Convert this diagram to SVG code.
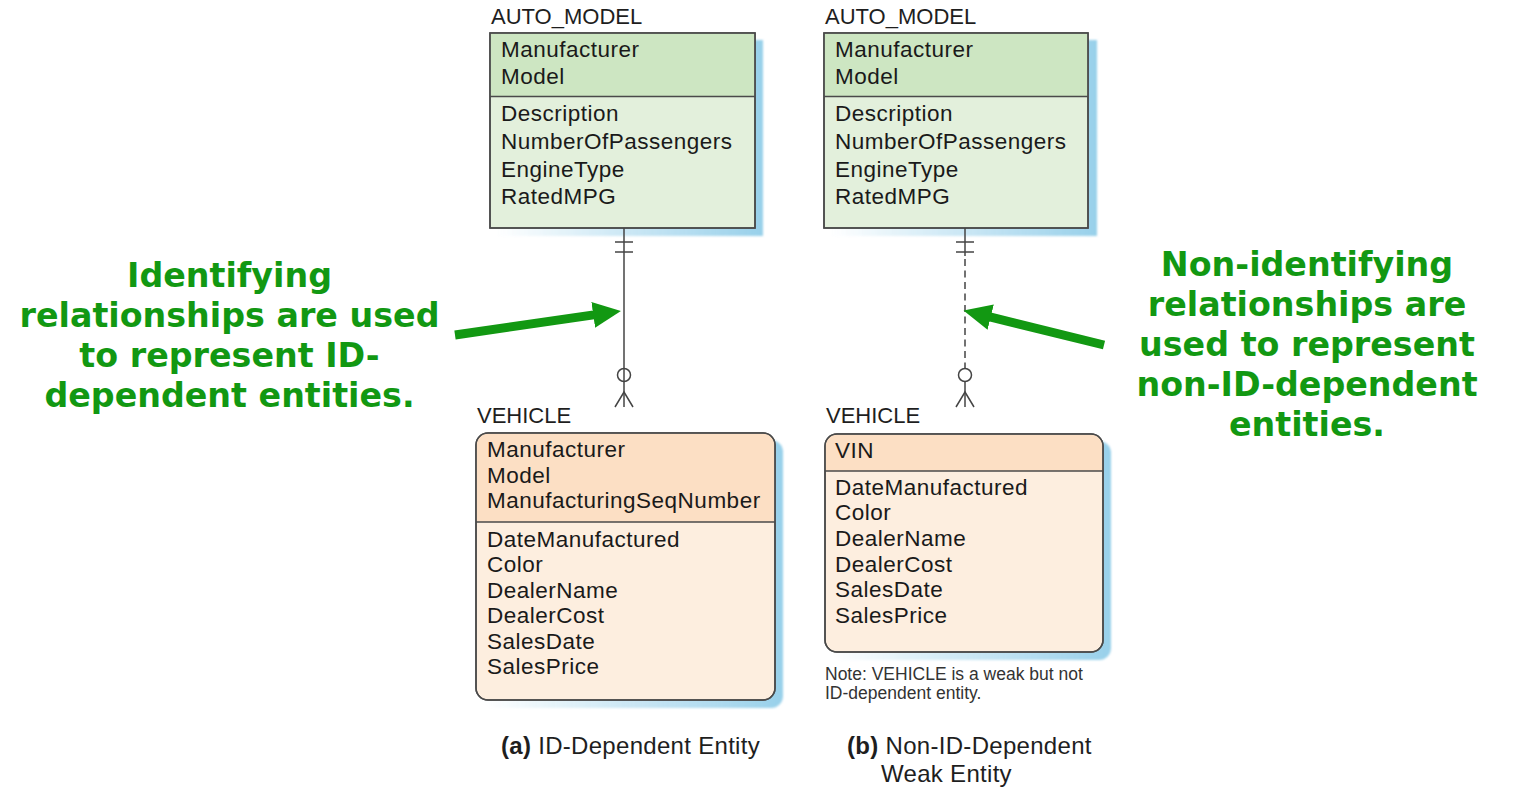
<svg xmlns="http://www.w3.org/2000/svg" width="1513" height="791" viewBox="0 0 1513 791">
<style>
.lbl{font-family:"Liberation Sans",Arial,sans-serif;font-size:22px;fill:#1e1e1e}
.att{font-family:"Liberation Sans",Arial,sans-serif;font-size:22.5px;letter-spacing:0.5px;fill:#1a1a1a}
.note{font-family:"Liberation Sans",Arial,sans-serif;font-size:17.5px;fill:#333}
.cap{font-family:"Liberation Sans",Arial,sans-serif;font-size:24px;letter-spacing:0.3px;fill:#1e1e1e}
.cap tspan.b{font-weight:bold}
.ann{font-family:"DejaVu Sans",Verdana,sans-serif;font-weight:bold;font-size:33.3px;fill:#129812;text-anchor:middle}
.box{stroke:#4a4a4a;stroke-width:1.5}
.sep{stroke:#4a4a4a;stroke-width:1.5}
.shadow{fill:url(#sh);filter:url(#blur)}
.rel{stroke:#444;stroke-width:1.5;fill:none}
.greenArrow{stroke:#129812;stroke-width:9;fill:none;marker-end:url(#gHead)}
</style>
<defs>
<linearGradient id="sh" x1="0" y1="0" x2="1" y2="0">
<stop offset="0" stop-color="#9fd3ec" stop-opacity="0"/>
<stop offset="0.45" stop-color="#9fd3ec" stop-opacity="0.5"/>
<stop offset="1" stop-color="#98d0ea" stop-opacity="1"/>
</linearGradient>
<filter id="blur" x="-5%" y="-5%" width="110%" height="110%"><feGaussianBlur stdDeviation="1.2"/></filter>
<marker id="gHead" markerUnits="userSpaceOnUse" markerWidth="30" markerHeight="28" refX="4" refY="13" orient="auto" viewBox="0 0 30 28">
<path d="M0,0 L28,13 L0,26 z" fill="#129812"/>
</marker>
</defs>
<rect width="1513" height="791" fill="#fff"/>

<g id="auto_model_a">
<text class="lbl" x="491" y="24">AUTO_MODEL</text>
<rect class="shadow" x="497" y="40" width="266" height="196"/>
<rect class="box" x="490" y="33" width="265" height="195" fill="#e3f0dc"/>
<rect x="490.75" y="33.75" width="263.5" height="62.5" fill="#cde6c2"/>
<rect class="box" x="490" y="33" width="265" height="195" fill="none"/>
<line class="sep" x1="490" y1="96.5" x2="755" y2="96.5"/>
<text class="att" x="501" y="57">Manufacturer</text>
<text class="att" x="501" y="84">Model</text>
<text class="att" x="501" y="121">Description</text>
<text class="att" x="501" y="149">NumberOfPassengers</text>
<text class="att" x="501" y="177">EngineType</text>
<text class="att" x="501" y="204">RatedMPG</text>
</g>

<g id="auto_model_b">
<text class="lbl" x="825" y="24">AUTO_MODEL</text>
<rect class="shadow" x="831" y="40" width="266" height="196"/>
<rect class="box" x="824" y="33" width="264" height="195" fill="#e3f0dc"/>
<rect x="824.75" y="33.75" width="262.5" height="62.5" fill="#cde6c2"/>
<rect class="box" x="824" y="33" width="264" height="195" fill="none"/>
<line class="sep" x1="824" y1="96.5" x2="1088" y2="96.5"/>
<text class="att" x="835" y="57">Manufacturer</text>
<text class="att" x="835" y="84">Model</text>
<text class="att" x="835" y="121">Description</text>
<text class="att" x="835" y="149">NumberOfPassengers</text>
<text class="att" x="835" y="177">EngineType</text>
<text class="att" x="835" y="204">RatedMPG</text>
</g>

<g id="vehicle_a">
<text class="lbl" x="477" y="423">VEHICLE</text>
<rect class="shadow" x="483" y="440" width="300" height="268" rx="12"/>
<rect class="box" x="476" y="433" width="299" height="267" rx="12" fill="#fdeedf"/>
<path d="M476.75,522 V445 a11.25,11.25 0 0 1 11.25,-11.25 H763 a11.25,11.25 0 0 1 11.25,11.25 V522 z" fill="#fcdfc4"/>
<rect class="box" x="476" y="433" width="299" height="267" rx="12" fill="none"/>
<line class="sep" x1="476" y1="522" x2="775" y2="522"/>
<text class="att" x="487" y="457">Manufacturer</text>
<text class="att" x="487" y="483">Model</text>
<text class="att" x="487" y="508">ManufacturingSeqNumber</text>
<text class="att" x="487" y="547">DateManufactured</text>
<text class="att" x="487" y="572">Color</text>
<text class="att" x="487" y="598">DealerName</text>
<text class="att" x="487" y="623">DealerCost</text>
<text class="att" x="487" y="649">SalesDate</text>
<text class="att" x="487" y="674">SalesPrice</text>
</g>

<g id="vehicle_b">
<text class="lbl" x="826" y="423">VEHICLE</text>
<rect class="shadow" x="832" y="441" width="279" height="219" rx="12"/>
<rect class="box" x="825" y="434" width="278" height="218" rx="12" fill="#fdeedf"/>
<path d="M825.75,471 V446 a11.25,11.25 0 0 1 11.25,-11.25 H1091 a11.25,11.25 0 0 1 11.25,11.25 V471 z" fill="#fcdfc4"/>
<rect class="box" x="825" y="434" width="278" height="218" rx="12" fill="none"/>
<line class="sep" x1="825" y1="471" x2="1103" y2="471"/>
<text class="att" x="835" y="458">VIN</text>
<text class="att" x="835" y="495">DateManufactured</text>
<text class="att" x="835" y="520">Color</text>
<text class="att" x="835" y="546">DealerName</text>
<text class="att" x="835" y="572">DealerCost</text>
<text class="att" x="835" y="597">SalesDate</text>
<text class="att" x="835" y="623">SalesPrice</text>
</g>

<g id="connectors">
<g id="rel_identifying">
<line class="rel" x1="624" y1="228" x2="624" y2="407"/>
<line class="rel" x1="615" y1="242" x2="633" y2="242"/>
<line class="rel" x1="615" y1="252" x2="633" y2="252"/>
<circle class="rel" cx="624" cy="375" r="6.5" fill="#fff"/>
<path class="rel" d="M615,407 L624,392 L633,407"/>
</g>
<g id="rel_nonidentifying">
<line class="rel" x1="965" y1="228" x2="965" y2="256"/>
<line class="rel" x1="965" y1="259" x2="965" y2="368" stroke-dasharray="7,4.5"/>
<line class="rel" x1="965" y1="381" x2="965" y2="407"/>
<line class="rel" x1="956" y1="242" x2="974" y2="242"/>
<line class="rel" x1="956" y1="252" x2="974" y2="252"/>
<circle class="rel" cx="965" cy="375" r="6.5" fill="#fff"/>
<path class="rel" d="M956,407 L965,392 L974,407"/>
</g>
<line id="arrow_left" class="greenArrow" x1="455" y1="335" x2="597.2" y2="314.4"/>
<line id="arrow_right" class="greenArrow" x1="1104" y1="345" x2="986.8" y2="316.2"/>
</g>

<g id="annotation_left">
<text class="ann" x="229.5" y="287">Identifying</text>
<text class="ann" x="229.5" y="327">relationships are used</text>
<text class="ann" x="229.5" y="367">to represent ID-</text>
<text class="ann" x="229.5" y="407">dependent entities.</text>
</g>
<g id="annotation_right">
<text class="ann" x="1307" y="276">Non-identifying</text>
<text class="ann" x="1307" y="316">relationships are</text>
<text class="ann" x="1307" y="356">used to represent</text>
<text class="ann" x="1307" y="396">non-ID-dependent</text>
<text class="ann" x="1307" y="436">entities.</text>
</g>

<g id="note">
<text class="note" x="825" y="680">Note: VEHICLE is a weak but not</text>
<text class="note" x="825" y="699">ID-dependent entity.</text>
</g>
<g id="captions">
<text class="cap" x="501" y="754"><tspan class="b">(a)</tspan> ID-Dependent Entity</text>
<text class="cap" x="847" y="754"><tspan class="b">(b)</tspan> Non-ID-Dependent</text>
<text class="cap" x="881" y="782">Weak Entity</text>
</g>
</svg>
